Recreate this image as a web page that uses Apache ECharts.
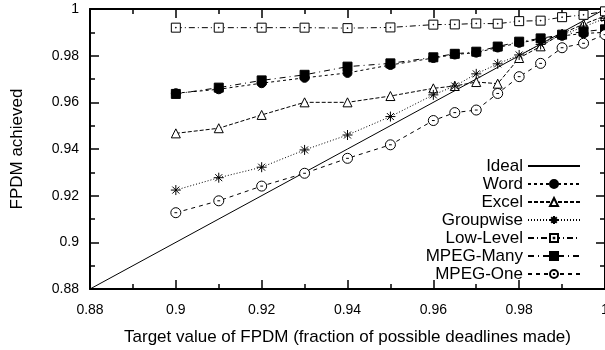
<!DOCTYPE html>
<html>
<head>
    <meta charset="UTF-8">
    <title>FPDM achieved</title>
    <script src="https://cdn.jsdelivr.net/npm/echarts@6/dist/echarts.min.js"></script>
    <style>
        html, body { margin: 0; padding: 0; background: #fff; }
        #main { width: 605px; height: 350px; }
    </style>
</head>
<body>
<div id="main"></div>
<script type="text/javascript">
    // target FPDM values (x)
    var targets = [0.90, 0.91, 0.92, 0.93, 0.94, 0.95, 0.96, 0.965, 0.97, 0.975, 0.98, 0.985, 0.99, 0.995, 1.0];
    // achieved FPDM per workload
    var word = [0.9639, 0.9656, 0.9682, 0.9705, 0.9726, 0.9760, 0.9790, 0.9805, 0.9813, 0.9835, 0.9855, 0.9870, 0.9885, 0.9895, 0.9900];
    var excel = [0.9467, 0.9489, 0.9546, 0.9600, 0.9600, 0.9627, 0.9660, 0.9670, 0.9687, 0.9680, 0.9790, 0.9840, 0.9895, 0.9935, 0.9970];
    var groupwise = [0.9224, 0.9277, 0.9322, 0.9396, 0.9460, 0.9539, 0.9632, 0.9670, 0.9722, 0.9765, 0.9803, 0.9848, 0.9889, 0.9923, 0.9960];
    var lowLevel = [0.9920, 0.9920, 0.9920, 0.9920, 0.9918, 0.9921, 0.9933, 0.9934, 0.9938, 0.9937, 0.9948, 0.9950, 0.9965, 0.9975, 0.9990];
    var mpegMany = [0.9636, 0.9663, 0.9694, 0.9718, 0.9753, 0.9767, 0.9793, 0.9808, 0.9817, 0.9839, 0.9860, 0.9874, 0.9890, 0.9903, 0.9913];
    var mpegOne = [0.9127, 0.9178, 0.9241, 0.9296, 0.9360, 0.9418, 0.9522, 0.9556, 0.9567, 0.9638, 0.9710, 0.9767, 0.9834, 0.9853, 0.9890];
    var idealX = [0.88, 1.0];
    var idealY = [0.88, 1.0];

    var font = 'Liberation Sans, Arial, sans-serif';

    function pairs(xs, ys) {
        var out = [];
        for (var i = 0; i < xs.length; i++) out.push([xs[i], ys[i]]);
        return out;
    }

    // gnuplot style point shapes
    var asterisk = 'path://M0,5 L10,5 M5,0 L5,10 M1.5,1.5 L8.5,8.5 M1.5,8.5 L8.5,1.5';
    var boxDot = 'path://M0,0 L10,0 L10,10 L0,10 Z M4.6,4.6 L5.4,4.6 L5.4,5.4 L4.6,5.4 Z';
    var circleDash = 'path://M0,5 A5,5 0 1,0 10,5 A5,5 0 1,0 0,5 Z M3.6,5 L6.4,5';

    function lineSeries(name, ys, dash, symbol, size, fill) {
        return {
            name: name,
            type: 'line',
            data: pairs(targets, ys),
            symbol: symbol,
            symbolSize: size,
            showAllSymbol: true,
            lineStyle: {color: '#000', width: 1, type: dash},
            itemStyle: {color: fill, borderColor: '#000', borderWidth: 1},
            emphasis: {disabled: true},
            animation: false
        };
    }

    var myChart = echarts.init(document.getElementById('main'));

    var axisBase = {
        type: 'value',
        min: 0.88,
        max: 1,
        interval: 0.02,
        splitLine: {show: false},
        axisLine: {onZero: false, lineStyle: {color: '#000', width: 2}},
        axisTick: {inside: true, length: 9, lineStyle: {color: '#000', width: 1.5}},
        minorTick: {show: true, splitNumber: 2, length: 5, lineStyle: {color: '#000', width: 1.5}}
    };

    var option = {
        backgroundColor: '#fff',
        animation: false,
        textStyle: {fontFamily: font},
        grid: {left: 90, right: 0, top: 9, bottom: 61, outerBoundsMode: 'none'},
        xAxis: [
            Object.assign({}, axisBase, {
                position: 'bottom',
                name: 'Target value of FPDM (fraction of possible deadlines made)',
                nameLocation: 'middle',
                nameGap: 40,
                nameTextStyle: {color: '#000', fontSize: 17, fontFamily: font},
                axisLabel: {color: '#000', fontSize: 14, fontFamily: font, margin: 14}
            }),
            Object.assign({}, axisBase, {
                position: 'top',
                axisLabel: {show: false}
            })
        ],
        yAxis: [
            Object.assign({}, axisBase, {
                position: 'left',
                name: 'FPDM achieved',
                nameLocation: 'middle',
                nameGap: 64,
                nameTextStyle: {color: '#000', fontSize: 17, fontFamily: font},
                axisLabel: {color: '#000', fontSize: 14, fontFamily: font, margin: 11}
            }),
            Object.assign({}, axisBase, {
                position: 'right',
                axisLabel: {show: false}
            })
        ],
        legend: {
            orient: 'vertical',
            right: 19,
            top: 152,
            align: 'right',
            itemWidth: 52,
            itemHeight: 10,
            itemGap: 0,
            selectedMode: false,
            textStyle: {color: '#000', fontSize: 17, fontFamily: font, lineHeight: 18},
            data: [
                {name: 'Ideal', itemStyle: {opacity: 0}},
                'Word', 'Excel', 'Groupwise', 'Low-Level', 'MPEG-Many', 'MPEG-One'
            ]
        },
        series: [
            {
                name: 'Ideal',
                type: 'line',
                data: pairs(idealX, idealY),
                symbol: 'none',
                lineStyle: {color: '#000', width: 1, type: 'solid'},
                itemStyle: {color: '#000'},
                emphasis: {disabled: true}
            },
            lineSeries('Word', word, [3, 3], 'circle', 9, '#000'),
            lineSeries('Excel', excel, [4, 2], 'triangle', 9, '#fff'),
            lineSeries('Groupwise', groupwise, [1, 2], asterisk, 10, 'none'),
            lineSeries('Low-Level', lowLevel, [6, 3, 1, 3], boxDot, 9, '#fff'),
            lineSeries('MPEG-Many', mpegMany, [6, 4, 1, 4], 'rect', 9, '#000'),
            lineSeries('MPEG-One', mpegOne, [4, 4], circleDash, 10, '#fff')
        ]
    };
    myChart.setOption(option);
</script>
</body>
</html>
